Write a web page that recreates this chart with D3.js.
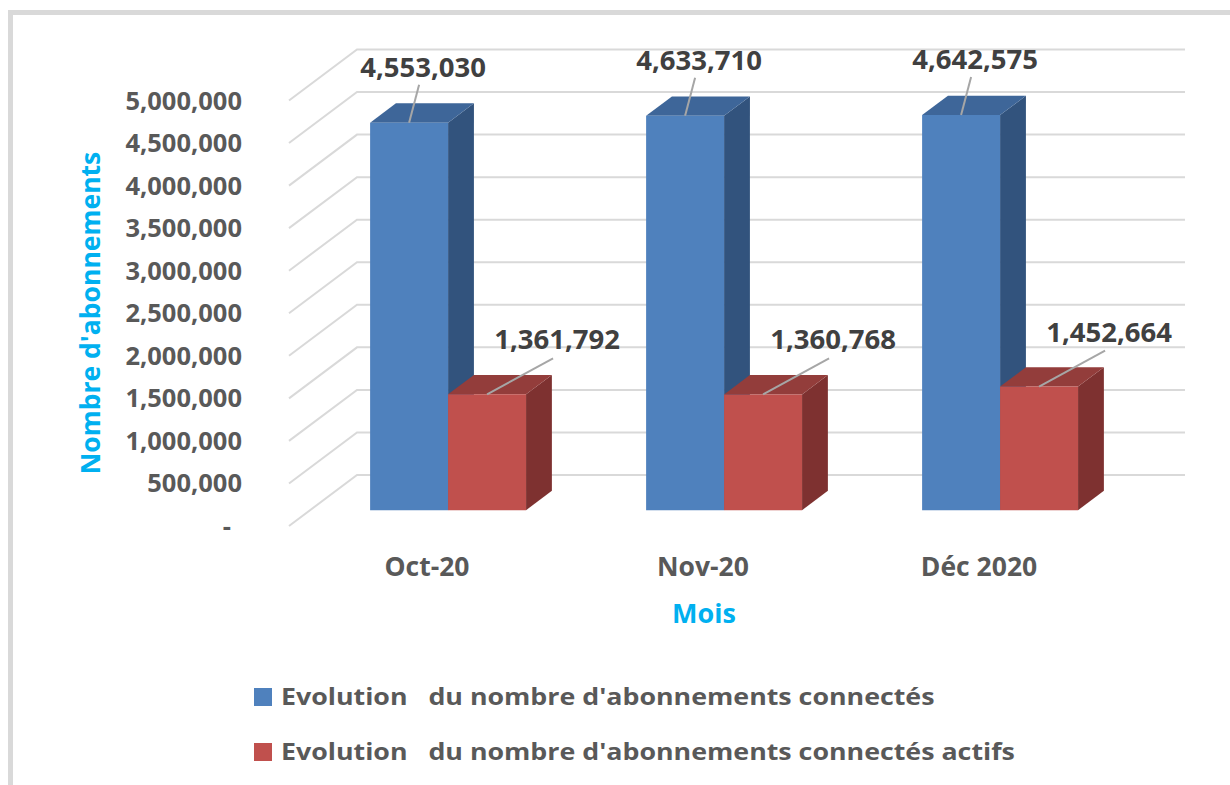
<!DOCTYPE html>
<html>
<head>
<meta charset="utf-8">
<script src="https://cdn.jsdelivr.net/npm/d3@7/dist/d3.min.js"></script>
<style>
  body { margin: 0; background: #fff; }
  text { font-family: "Open Sans", Lato, sans-serif; font-weight: bold; }
</style>
</head>
<body>
<div id="chart"></div>
<script>
// données
var categories = ["Oct-20", "Nov-20", "Déc 2020"];
var seriesNames = [
  "Evolution   du nombre d'abonnements connectés",
  "Evolution   du nombre d'abonnements connectés actifs"
];
var connectes = [4553030, 4633710, 4642575];
var actifs = [1361792, 1360768, 1452664];
var yTicks = [0, 500000, 1000000, 1500000, 2000000, 2500000, 3000000, 3500000, 4000000, 4500000, 5000000];

var width = 1230, height = 785;
var colors = [
  { front: "#4f81bd", top: "#3e6699", side: "#32537d" },
  { front: "#c0504d", top: "#933d3b", side: "#7e3130" }
];

// projection oblique : profondeur z de 0 (avant) à 1 (fond)
var depth = { dx: 68, dy: 51 };
var floorLeft = 289, floorWidth = 828;
var barZ0 = 0.31, barZ1 = 0.69;

var y = d3.scaleLinear().domain([0, 5000000]).range([526, 100.5]);
var xGroup = d3.scaleBand().domain(categories).range([0, floorWidth])
  .paddingInner(0.435).paddingOuter(0.2175);
var xSeries = d3.scaleBand().domain([0, 1]).range([0, xGroup.bandwidth()]);

function proj(x, v, z) {
  return [floorLeft + x + z * depth.dx, y(v) - z * depth.dy];
}

var svg = d3.select("#chart").append("svg")
  .attr("width", width).attr("height", height);

// cadre
svg.append("rect")
  .attr("x", 10.5).attr("y", 12.5)
  .attr("width", 1240).attr("height", 800)
  .attr("fill", "#fff").attr("stroke", "#d9d9d9").attr("stroke-width", 5);

// grille : paroi gauche + fond
var grid = svg.append("g");
yTicks.forEach(function(t) {
  var a = proj(0, t, 0), b = proj(0, t, 1), c = proj(floorWidth, t, 1);
  grid.append("path")
    .attr("d", "M" + a + "L" + b + "L" + c)
    .attr("fill", "none").attr("stroke", "#d9d9d9").attr("stroke-width", 2);
});

// libellés axe Y
svg.append("g").selectAll("text")
  .data(yTicks).enter().append("text")
  .attr("x", function(d) { return d === 0 ? 231 : 242; })
  .attr("y", function(d) { return y(d) + 9; })
  .attr("text-anchor", "end")
  .attr("fill", "#595959").attr("font-size", 25.5)
  .text(function(d) { return d === 0 ? "-" : d3.format(",")(d); });

// barres 3D
var bars = [];
categories.forEach(function(c, i) {
  [connectes[i], actifs[i]].forEach(function(v, s) {
    bars.push({ cat: c, s: s, v: v });
  });
});

var barG = svg.append("g");
bars.forEach(function(d) {
  var x0 = xGroup(d.cat) + xSeries(d.s), x1 = x0 + xSeries.bandwidth();
  var col = colors[d.s];
  var fbl = proj(x0, 0, barZ0), fbr = proj(x1, 0, barZ0),
      ftl = proj(x0, d.v, barZ0), ftr = proj(x1, d.v, barZ0),
      btl = proj(x0, d.v, barZ1), btr = proj(x1, d.v, barZ1),
      bbr = proj(x1, 0, barZ1);
  barG.append("path").attr("d", "M" + fbr + "L" + ftr + "L" + btr + "L" + bbr + "Z")
    .attr("fill", col.side);
  barG.append("path").attr("d", "M" + ftl + "L" + ftr + "L" + btr + "L" + btl + "Z")
    .attr("fill", col.top);
  barG.append("path").attr("d", "M" + fbl + "L" + fbr + "L" + ftr + "L" + ftl + "Z")
    .attr("fill", col.front);
});

// étiquettes de données avec lignes de rappel
var labelG = svg.append("g");
bars.forEach(function(d) {
  var xc = xGroup(d.cat) + xSeries(d.s) + xSeries.bandwidth() / 2;
  var top = proj(xc, d.v, barZ0);
  var lx, ly, ex, ey;
  if (d.s === 0) {
    lx = top[0] + 14; ly = top[1] - 46;
    ex = top[0] + 10; ey = top[1] - 38;
  } else {
    lx = top[0] + 70; ly = top[1] - 45;
    ex = top[0] + 66; ey = top[1] - 36;
  }
  labelG.append("line")
    .attr("x1", top[0]).attr("y1", top[1])
    .attr("x2", ex).attr("y2", ey)
    .attr("stroke", "#a6a6a6").attr("stroke-width", 2);
  labelG.append("text")
    .attr("x", lx).attr("y", ly)
    .attr("text-anchor", "middle")
    .attr("fill", "#404040").attr("font-size", 27.5)
    .text(d3.format(",")(d.v));
});

// libellés axe X
svg.append("g").selectAll("text")
  .data(categories).enter().append("text")
  .attr("x", function(d) { return floorLeft + xGroup(d) + xGroup.bandwidth() / 2; })
  .attr("y", 576)
  .attr("text-anchor", "middle")
  .attr("fill", "#595959").attr("font-size", 26.5)
  .text(function(d) { return d; });

// titres des axes
svg.append("text")
  .attr("x", 704).attr("y", 623)
  .attr("text-anchor", "middle")
  .attr("fill", "#00b0f0").attr("font-size", 27)
  .text("Mois");

svg.append("text")
  .attr("transform", "translate(100,313) rotate(-90)")
  .attr("text-anchor", "middle")
  .attr("fill", "#00b0f0").attr("font-size", 26.5)
  .text("Nombre d'abonnements");

// légende (texte étiré en largeur comme dans l'original)
var legend = svg.append("g").selectAll("g")
  .data(seriesNames).enter().append("g")
  .attr("transform", function(d, i) { return "translate(254," + (688 + i * 55) + ")"; });
legend.append("rect")
  .attr("width", 18).attr("height", 18)
  .attr("fill", function(d, i) { return colors[i].front; });
legend.append("text")
  .attr("x", 27).attr("y", 17)
  .attr("fill", "#595959").attr("font-size", 22.5)
  .style("white-space", "pre")
  .text(function(d) { return d; })
  .each(function() {
    var w = this.getComputedTextLength();
    d3.select(this).attr("textLength", w * 1.19).attr("lengthAdjust", "spacingAndGlyphs");
  });
</script>
</body>
</html>
